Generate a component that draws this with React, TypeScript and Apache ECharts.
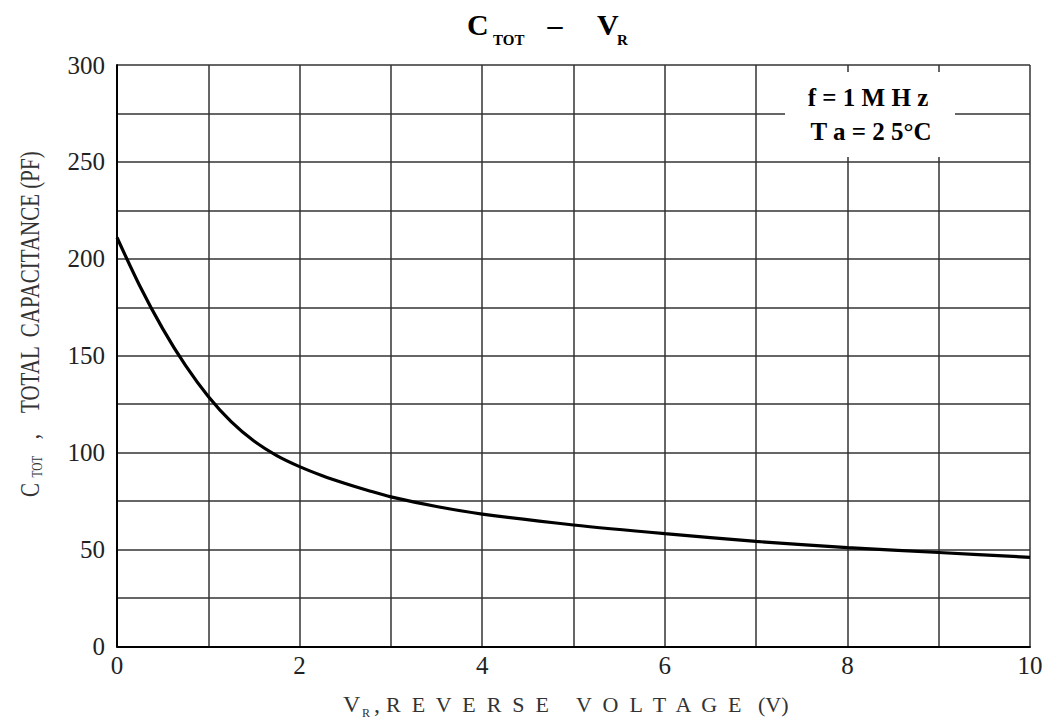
import React, { useEffect, useRef } from "react";
import * as echarts from "echarts";

// Reverse voltage (V) and total capacitance (pF)
const VR = [0, 0.25, 0.5, 0.75, 1, 1.25, 1.5, 1.75, 2, 2.25, 2.5, 2.75, 3, 3.5, 4, 5, 6, 7, 8, 9, 10];
const CTOT = [211, 186, 164, 145, 129, 116, 106, 98.5, 92.8, 88.1, 84.1, 80.5, 77.2, 72.2, 68.3, 62.7, 58.2, 54.2, 51, 48.5, 46];

const X_LABEL_STEP = 2;
const Y_LABEL_STEP = 50;
const NOTE_LINES = ["f = 1 M H z", "T a = 2 5°C"];
const X_NAME = "R  E  V  E  R  S  E     V  O  L  T  A  G  E   (V)";

const SERIF = "Liberation Serif, Times New Roman, serif";

export default function App() {
  const ref = useRef<HTMLDivElement>(null);

  useEffect(() => {
    if (!ref.current) return;
    const chart = echarts.init(ref.current, undefined, { renderer: "svg" });

    const option = {
      animation: false,
      backgroundColor: "#ffffff",
      grid: { left: 117, top: 65, right: 20, bottom: 77.5 },
      xAxis: {
        type: "value",
        min: 0,
        max: 10,
        interval: 1,
        axisLine: { show: true, lineStyle: { color: "#000", width: 2 } },
        axisTick: { show: false },
        splitLine: { show: true, lineStyle: { color: "#333", width: 1.5 } },
        axisLabel: {
          formatter: (v: number) => (v % X_LABEL_STEP === 0 ? String(v) : ""),
          fontFamily: SERIF,
          fontSize: 25,
          color: "#222",
          margin: 6,
        },
      },
      yAxis: {
        type: "value",
        min: 0,
        max: 300,
        interval: 25,
        axisLine: { show: true, lineStyle: { color: "#000", width: 2 } },
        axisTick: { show: false },
        splitLine: { show: true, lineStyle: { color: "#333", width: 1.5 } },
        axisLabel: {
          formatter: (v: number) => (v % Y_LABEL_STEP === 0 ? String(v) : ""),
          fontFamily: SERIF,
          fontSize: 25,
          color: "#222",
          margin: 12,
        },
      },
      series: [
        {
          type: "line",
          data: VR.map((v, i) => [v, CTOT[i]]),
          smooth: 0.3,
          showSymbol: false,
          symbol: "none",
          lineStyle: { color: "#000", width: 3.2 },
          z: 5,
        },
      ],
      graphic: [
        // Title
        { type: "text", x: 467, y: 24, z: 20, style: { text: "C", fontFamily: SERIF, fontWeight: "bold", fontSize: 30, fill: "#000", textAlign: "left", textVerticalAlign: "middle" } },
        { type: "text", x: 493, y: 40, z: 20, style: { text: "TOT", fontFamily: SERIF, fontWeight: "bold", fontSize: 15, fill: "#000", textAlign: "left", textVerticalAlign: "middle" } },
        { type: "text", x: 555, y: 24, z: 20, style: { text: "–", fontFamily: SERIF, fontWeight: "bold", fontSize: 30, fill: "#000", textAlign: "center", textVerticalAlign: "middle" } },
        { type: "text", x: 597, y: 24, z: 20, style: { text: "V", fontFamily: SERIF, fontWeight: "bold", fontSize: 30, fill: "#000", textAlign: "left", textVerticalAlign: "middle" } },
        { type: "text", x: 617, y: 40, z: 20, style: { text: "R", fontFamily: SERIF, fontWeight: "bold", fontSize: 15, fill: "#000", textAlign: "left", textVerticalAlign: "middle" } },

        // Condition box
        { type: "rect", z: 20, shape: { x: 785, y: 72, width: 170, height: 85 }, style: { fill: "#fff", stroke: null } },
        { type: "text", x: 868, y: 97, z: 21, style: { text: NOTE_LINES[0], fontFamily: SERIF, fontWeight: "bold", fontSize: 25, fill: "#000", textAlign: "center", textVerticalAlign: "middle" } },
        { type: "text", x: 871, y: 131, z: 21, style: { text: NOTE_LINES[1], fontFamily: SERIF, fontWeight: "bold", fontSize: 25, fill: "#000", textAlign: "center", textVerticalAlign: "middle" } },

        // Y axis name (rotated, condensed)
        {
          type: "group",
          x: 29,
          y: 497,
          rotation: Math.PI / 2,
          scaleX: 0.75,
          z: 20,
          children: [
            { type: "text", x: 0, y: 0, style: { text: "C", fontFamily: SERIF, fontSize: 28, fill: "#333", textAlign: "left", textVerticalAlign: "middle" } },
            { type: "text", x: 26, y: 8, style: { text: "TOT", fontFamily: SERIF, fontSize: 15, fill: "#333", textAlign: "left", textVerticalAlign: "middle" } },
            { type: "text", x: 77, y: 0, style: { text: ",", fontFamily: SERIF, fontSize: 28, fill: "#333", textAlign: "left", textVerticalAlign: "middle" } },
            { type: "text", x: 112, y: 0, style: { text: "TOTAL", fontFamily: SERIF, fontSize: 28, fill: "#333", textAlign: "left", textVerticalAlign: "middle" } },
            { type: "text", x: 213, y: 0, style: { text: "CAPACITANCE (PF)", fontFamily: SERIF, fontSize: 28, fill: "#333", textAlign: "left", textVerticalAlign: "middle" } },
          ],
        },

        // X axis name
        { type: "text", x: 343, y: 704, z: 20, style: { text: "V", fontFamily: SERIF, fontSize: 24, fill: "#333", textAlign: "left", textVerticalAlign: "middle" } },
        { type: "text", x: 362, y: 713, z: 20, style: { text: "R", fontFamily: SERIF, fontSize: 12, fill: "#333", textAlign: "left", textVerticalAlign: "middle" } },
        { type: "text", x: 374, y: 704, z: 20, style: { text: ",", fontFamily: SERIF, fontSize: 24, fill: "#333", textAlign: "left", textVerticalAlign: "middle" } },
        { type: "text", x: 386, y: 704, z: 20, style: { text: X_NAME, fontFamily: SERIF, fontSize: 22, fill: "#333", textAlign: "left", textVerticalAlign: "middle" } },
      ],
    };

    chart.setOption(option as any);
    return () => chart.dispose();
  }, []);

  return (
    <div
      ref={ref}
      style={{ position: "absolute", left: 0, top: 0, width: 1050, height: 724, background: "#fff" }}
    />
  );
}
